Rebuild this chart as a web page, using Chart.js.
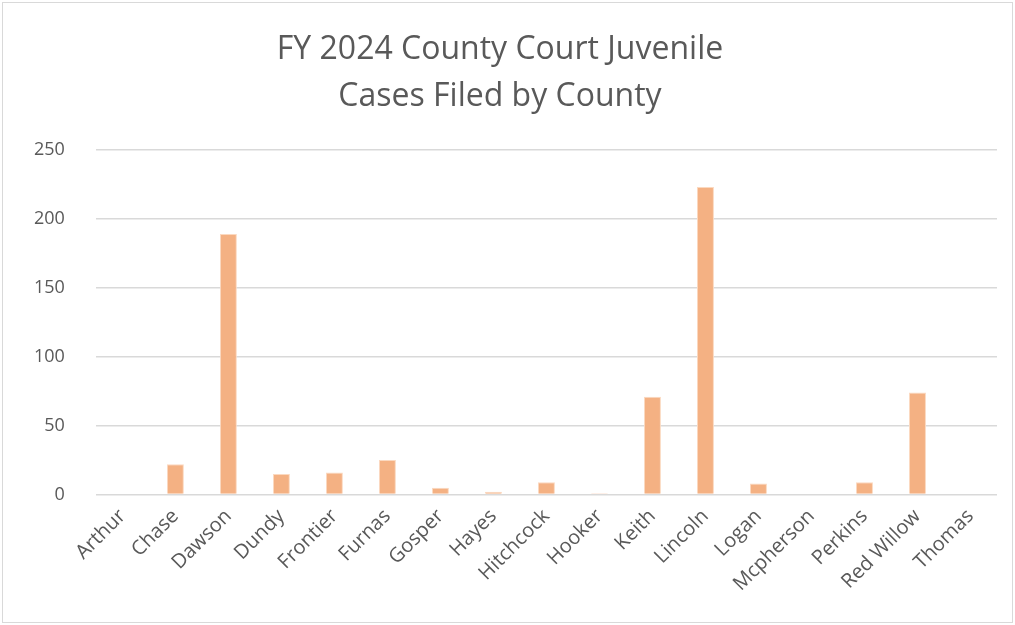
<!DOCTYPE html>
<html>
<head>
<meta charset="utf-8">
<script src="https://cdn.jsdelivr.net/npm/chart.js@4"></script>
<style>
  html, body { margin: 0; padding: 0; background: #fff; }
  #wrap { position: absolute; left: 2px; top: 2px; width: 1009px; height: 619px; border: 1px solid #d9d9d9; }
</style>
</head>
<body>
<div id="wrap"><canvas id="juvenile_cases"></canvas></div>
<script>
// casos juvenis por condado
var counties = ["Arthur", "Chase", "Dawson", "Dundy", "Frontier", "Furnas", "Gosper", "Hayes", "Hitchcock",
  "Hooker", "Keith", "Lincoln", "Logan", "Mcpherson", "Perkins", "Red Willow", "Thomas"];
var casesFiled = [0, 22, 189, 15, 16, 25, 5, 2, 9, 1, 71, 223, 8, 0, 9, 74, 0];
var titleLines = ["FY 2024 County Court Juvenile", "Cases Filed by County"];

new Chart(document.getElementById("juvenile_cases"), {
    type: 'bar',
    data: {
      labels: counties,
      datasets: [{
        label: "Cases",
        backgroundColor: "#f4b183",
        borderColor: "#fbd9c0",
        borderWidth: 1,
        data: casesFiled,
        categoryPercentage: 1,
        barPercentage: 0.32
      }]
    },
    options: {
        responsive: true,
        maintainAspectRatio: false,
        animation: false,
        layout: { padding: { left: 0, right: 15, top: 24, bottom: 24 } },
        plugins: {
            legend: { display: false },
            tooltip: { enabled: false },
            title: {
                display: true,
                text: titleLines,
                color: "#595959",
                font: { family: "'Open Sans'", size: 32, weight: 'normal', lineHeight: 1.45 },
                padding: { top: 0, bottom: 30 }
            }
        },
        scales: {
            x: {
                grid: { display: false },
                border: { display: false },
                ticks: {
                    color: "#595959",
                    font: { family: "'Open Sans'", size: 20 },
                    maxRotation: 45,
                    minRotation: 45,
                    autoSkip: false,
                    padding: 2
                }
            },
            y: {
                min: 0,
                max: 250,
                grid: { color: "#d9d9d9", lineWidth: 1.5, drawTicks: false },
                border: { display: false },
                ticks: {
                    stepSize: 50,
                    padding: 31,
                    color: "#595959",
                    font: { family: "'Open Sans'", size: 18 }
                }
            }
        }
    }
});
</script>
</body>
</html>
